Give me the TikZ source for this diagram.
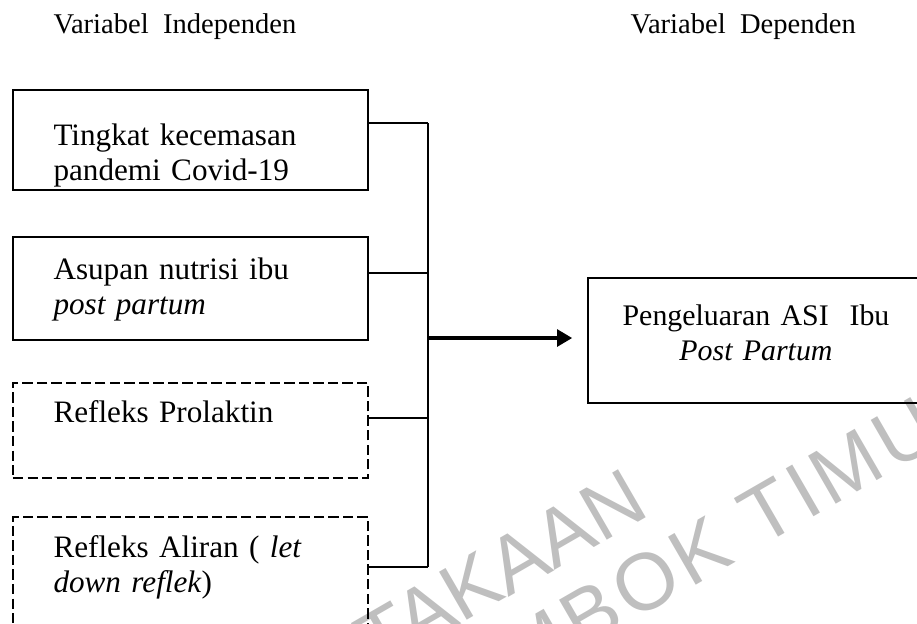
\documentclass[tikz,border=0pt]{standalone}
\usepackage{fontspec}
\setmainfont{Liberation Serif}
\newfontfamily\wmfont{Liberation Sans}
\newfontfamily\wmwidefont[LetterSpace=6]{Liberation Sans}
\usetikzlibrary{arrows.meta}

\begin{document}
\begin{tikzpicture}[x=0.385pt, y=-0.385pt,
        varbox/.style={draw, line width=0.5pt, minimum width=136.7pt, inner sep=0pt},
        dashbox/.style={varbox, dash pattern=on 4pt off 1.6pt},
        boxtext/.style={align=left, text width=125pt, inner sep=0pt, anchor=base west,
            font=\fontsize{12}{13.5}\selectfont},
        headtext/.style={inner sep=0pt, anchor=base west, font=\fontsize{11}{13}\selectfont},
        wmark/.style={text=black!25, font=\wmfont\fontsize{31}{31}\selectfont, rotate=30,
            inner sep=0pt}]
        % Page frame
        \useasboundingbox (0,0) rectangle (917,623);

        % Watermark
        \node[wmark, anchor=base east] (wmtop) at (652,514) {PERPUSTAKAAN};
        \node[wmark, anchor=base] (wmbot) at (708,578)
            {\wmwidefont\fontsize{31}{31}\selectfont LOMBOK TIMUR};

        % Headings
        \node[headtext] (indep) at (53,33) {Variabel\ \ Independen};
        \node[headtext] (dep) at (630,33) {Variabel\ \ Dependen};

        % Independent variables
        \node[varbox, minimum height=38.5pt] (tingkat) at (190.5,140) {};
        \node[varbox, minimum height=39.7pt] (asupan) at (190.5,288.5) {};
        \node[dashbox, minimum height=36.6pt] (prolaktin) at (190.5,430.5) {};
        \node[dashbox, minimum height=42.4pt] (aliran) at (190.5,572) {};
        \node[boxtext] (ttingkat) at (53,145) {Tingkat kecemasan\\pandemi Covid-19};
        \node[boxtext] (tasupan) at (53,279) {Asupan nutrisi ibu\\\textit{post partum}};
        \node[boxtext] (tprolaktin) at (53,422) {Refleks Prolaktin};
        \node[boxtext] (taliran) at (53,557) {Refleks Aliran ( \textit{let}\\\textit{down reflek})};

        % Dependent variable
        \node[varbox, minimum width=131pt, minimum height=48.1pt] (asi) at (758,340.5) {};
        \node[boxtext, align=center, text width=115pt, anchor=base] (tasi) at (756,325)
            {\fontsize{11.5}{13}\selectfont Pengeluaran ASI\ \ Ibu\\\textit{Post Partum}};

        % Bus line
        \coordinate (b1) at (428,123);
        \coordinate (b2) at (428,273);
        \coordinate (b3) at (428,418);
        \coordinate (b4) at (428,567);
        \coordinate (bmid) at (428,338);
        \draw[line width=0.5pt] (b1) -- (b4);
        \draw[line width=0.5pt] (tingkat.east |- b1) -- (b1);
        \draw[line width=0.5pt] (asupan.east |- b2) -- (b2);
        \draw[line width=0.5pt] (prolaktin.east |- b3) -- (b3);
        \draw[line width=0.5pt] (aliran.east |- b4) -- (b4);

        % Arrow to dependent variable
        \draw[->, >={Triangle[length=5.8pt, width=6.5pt]}, line width=1.2pt, shorten >=5.8pt]
            (bmid) -- (bmid -| asi.west);
    \end{tikzpicture}
\end{document}
